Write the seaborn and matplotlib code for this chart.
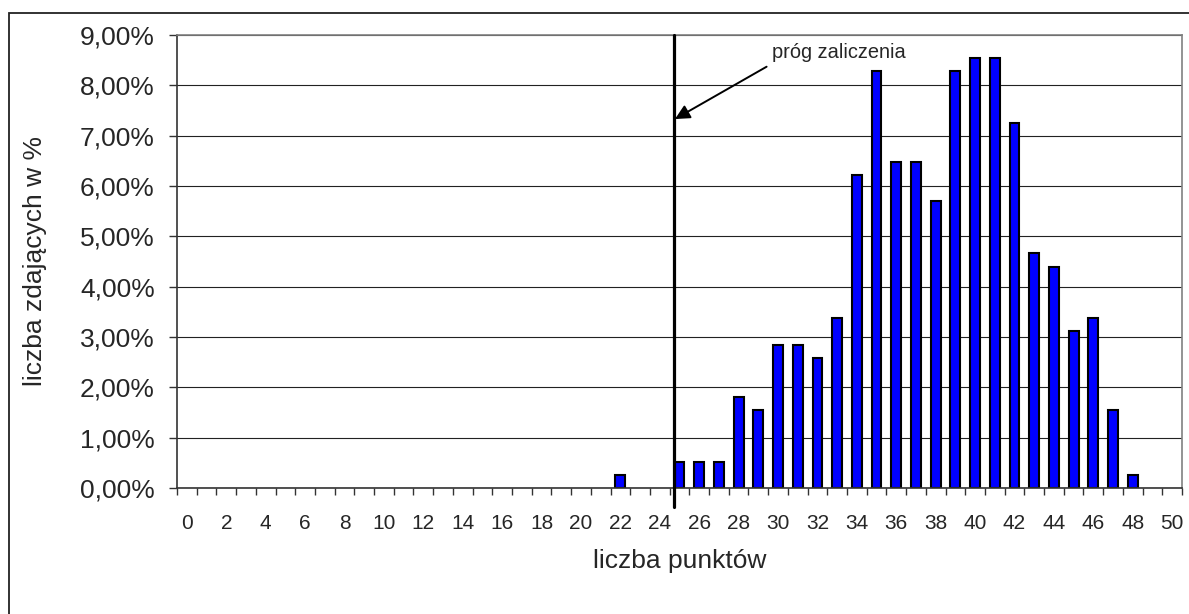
import pandas as pd
import matplotlib.pyplot as plt
import seaborn as sns
from matplotlib.patches import Rectangle
from matplotlib.ticker import FixedLocator, FuncFormatter

plt.switch_backend("Agg")
sns.set_theme(style="white")
plt.rcParams["font.family"] = ["Liberation Sans", "DejaVu Sans"]

# Data: share of students (%) per number of points
points = list(range(51))
percent = [
    0, 0, 0, 0, 0, 0, 0, 0, 0, 0,
    0, 0, 0, 0, 0, 0, 0, 0, 0, 0,
    0, 0, 0.26, 0, 0, 0.52, 0.52, 0.52, 1.81, 1.55,
    2.85, 2.85, 2.59, 3.37, 6.22, 8.29, 6.48, 6.48, 5.70, 8.29,
    8.55, 8.55, 7.25, 4.66, 4.40, 3.11, 3.37, 1.55, 0.26, 0,
    0,
]
threshold = 24.7
y_ticks = list(range(10))
x_labels = list(range(0, 51, 2))

df = pd.DataFrame({"punkty": points, "procent": percent})

fig = plt.figure(figsize=(11.89, 6.14), dpi=100)
ax = fig.add_axes([177 / 1189, 126 / 614, 1005 / 1189, 453 / 614])

sns.barplot(data=df, x="punkty", y="procent", order=points, color="#0000FF",
            saturation=1, edgecolor="black", linewidth=1.5, width=0.5, ax=ax)

# no outline for empty bars
for patch, v in zip(ax.patches, percent):
    if v == 0:
        patch.set_linewidth(0)

ax.set_xlim(-0.5, 50.5)
ax.set_ylim(0, 9)

# gridlines
ax.set_axisbelow(True)
ax.yaxis.grid(True, color="#222222", linewidth=0.8)
ax.xaxis.grid(False)

# y axis
ax.yaxis.set_major_locator(FixedLocator(y_ticks))
ax.yaxis.set_major_formatter(FuncFormatter(lambda v, _: f"{v:.2f}%".replace(".", ",")))
ax.tick_params(axis="y", left=True, length=6, width=1, color="#333333",
               direction="out", labelsize=19, pad=10)

# x axis: labels at every second category, ticks at category boundaries
ax.xaxis.set_major_locator(FixedLocator(x_labels))
ax.set_xticklabels([str(v) for v in x_labels])
ax.xaxis.set_minor_locator(FixedLocator([p - 0.5 for p in points] + [50.5]))
ax.tick_params(axis="x", which="major", bottom=True, length=0, labelsize=15, pad=19)
ax.tick_params(axis="x", which="minor", bottom=True, length=5, width=1,
               color="#333333", direction="out")

for side in ["top", "right"]:
    ax.spines[side].set_color("#808080")
    ax.spines[side].set_linewidth(1.2)
for side in ["left", "bottom"]:
    ax.spines[side].set_color("#333333")
    ax.spines[side].set_linewidth(1.2)

ax.set_xlabel("liczba punktów", fontsize=19)
ax.set_ylabel("liczba zdających w %", fontsize=19)
ax.xaxis.set_label_coords(0.5, -0.162)
ax.xaxis.label.set_va("center")
ax.yaxis.set_label_coords(-0.141, 0.5)
ax.yaxis.label.set_va("center")

# pass threshold line and annotation
ax.plot([threshold, threshold], [9, -0.38], color="black", linewidth=2.3,
        clip_on=False, zorder=5)
ax.annotate("", xy=(24.77, 7.33), xytext=(29.42, 8.37),
            arrowprops=dict(arrowstyle="-|>", mutation_scale=22, lw=1.4,
                            color="black", shrinkA=0, shrinkB=0))
ax.text(29.69, 8.66, "próg zaliczenia", fontsize=14.4, ha="left", va="center")

# outer chart border
fig.patches.append(Rectangle((9 / 1189, -0.05), 1.2, 1 - 13 / 614 + 0.05,
                             transform=fig.transFigure, fill=False,
                             edgecolor="#222222", linewidth=1.3))

fig.savefig("out.png", dpi=100)
plt.close(fig)
